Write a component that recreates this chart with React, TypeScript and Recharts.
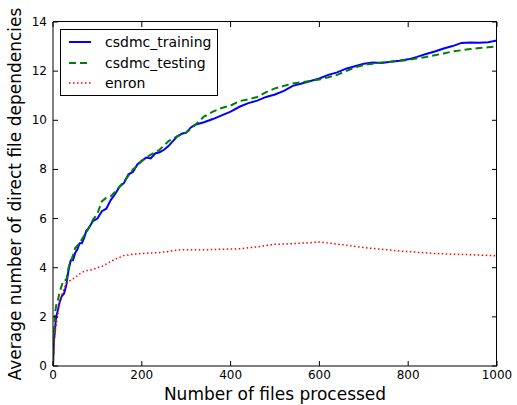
import { LineChart, Line, XAxis, YAxis, Label, CartesianGrid } from 'recharts'

const trainX = [0, 2, 5, 7, 10, 15, 20, 25, 30, 35, 40, 45, 50, 55, 60, 65, 70, 75, 80, 90, 100, 110, 120, 130, 140, 150, 160, 170, 180, 190, 200, 210, 220, 230, 240, 250, 260, 270, 280, 290, 300, 310, 320, 340, 360, 380, 400, 420, 440, 460, 480, 500, 520, 540, 560, 580, 600, 620, 640, 660, 680, 700, 720, 740, 760, 780, 800, 820, 840, 860, 880, 900, 920, 940, 960, 980, 1000]
const trainY = [0, 1.0, 1.6, 2.0, 2.2, 2.6, 2.85, 2.95, 3.3, 3.9, 4.3, 4.3, 4.6, 4.75, 5.0, 5.0, 5.2, 5.5, 5.6, 5.9, 6.0, 6.3, 6.4, 6.75, 7.0, 7.3, 7.45, 7.8, 7.9, 8.2, 8.35, 8.48, 8.45, 8.65, 8.7, 8.8, 8.95, 9.15, 9.35, 9.45, 9.5, 9.7, 9.82, 9.92, 10.05, 10.2, 10.35, 10.55, 10.7, 10.8, 10.95, 11.05, 11.2, 11.4, 11.5, 11.6, 11.7, 11.85, 11.95, 12.1, 12.2, 12.3, 12.35, 12.33, 12.38, 12.42, 12.48, 12.58, 12.7, 12.8, 12.92, 13.02, 13.15, 13.17, 13.16, 13.18, 13.25]

const testX = [0, 2, 5, 8, 10, 15, 20, 25, 30, 35, 40, 45, 50, 55, 60, 70, 80, 90, 100, 110, 120, 130, 140, 150, 160, 170, 180, 190, 200, 220, 240, 260, 280, 300, 320, 340, 360, 380, 400, 420, 440, 460, 480, 500, 520, 540, 560, 580, 600, 620, 640, 660, 680, 700, 720, 740, 760, 780, 800, 820, 840, 860, 880, 900, 920, 940, 960, 980, 1000]
const testY = [0, 1.3, 2.2, 2.55, 2.6, 3.0, 3.3, 3.5, 3.5, 4.0, 4.25, 4.5, 4.8, 4.9, 5.0, 5.3, 5.6, 5.95, 6.2, 6.7, 6.85, 6.9, 7.1, 7.3, 7.5, 7.75, 8.0, 8.15, 8.35, 8.6, 8.8, 9.15, 9.35, 9.5, 9.8, 10.15, 10.35, 10.5, 10.6, 10.78, 10.85, 10.95, 11.15, 11.3, 11.4, 11.5, 11.55, 11.6, 11.66, 11.75, 11.85, 12.0, 12.15, 12.25, 12.3, 12.35, 12.38, 12.42, 12.45, 12.52, 12.58, 12.65, 12.72, 12.8, 12.85, 12.9, 12.94, 12.97, 13.0]

const enronX = [0, 2, 5, 10, 15, 20, 25, 30, 40, 50, 60, 70, 80, 90, 100, 110, 120, 130, 140, 150, 160, 170, 180, 200, 220, 240, 260, 280, 300, 340, 380, 420, 460, 500, 540, 580, 600, 620, 660, 700, 740, 780, 820, 860, 900, 940, 980, 1000]
const enronY = [0, 0.8, 1.4, 2.0, 2.6, 2.9, 3.15, 3.35, 3.5, 3.6, 3.75, 3.85, 3.9, 3.92, 4.0, 4.05, 4.15, 4.25, 4.35, 4.42, 4.5, 4.52, 4.55, 4.58, 4.6, 4.62, 4.66, 4.72, 4.73, 4.73, 4.75, 4.77, 4.85, 4.95, 4.98, 5.02, 5.05, 5.0, 4.92, 4.82, 4.75, 4.68, 4.63, 4.58, 4.55, 4.53, 4.5, 4.48]

const xTicks = [0, 200, 400, 600, 800, 1000]
const yTicks = [0, 2, 4, 6, 8, 10, 12, 14]

const series = [
  { name: 'csdmc_training', color: '#0000ff', dash: undefined, width: 2, xs: trainX, ys: trainY },
  { name: 'csdmc_testing', color: '#008000', dash: '7 4', width: 2, xs: testX, ys: testY },
  { name: 'enron', color: '#ff0000', dash: '1.5 2.5', width: 1.5, xs: enronX, ys: enronY },
]

const toPoints = (xs: number[], ys: number[]) => xs.map((x, i) => ({ x, y: ys[i] }))

const FONT = 'DejaVu Sans'
const PLOT = { left: 53, top: 22, right: 20, bottom: 39 }

function BottomTick(props: any) {
  const { x, y, payload } = props
  return (
    <g>
      <line x1={x} x2={x} y1={y} y2={y - 5} stroke="#000" />
      <text x={x} y={y + 13} textAnchor="middle" fontSize={12} fontFamily={FONT} fill="#000">
        {payload.value}
      </text>
    </g>
  )
}

function LeftTick(props: any) {
  const { x, y, payload } = props
  return (
    <g>
      <line x1={x} x2={x + 5} y1={y} y2={y} stroke="#000" />
      <text x={x - 6} y={y + 4} textAnchor="end" fontSize={12} fontFamily={FONT} fill="#000">
        {payload.value}
      </text>
    </g>
  )
}

// grid lines reduced to short inward ticks on the top and right edges
const topTick = (p: any) => {
  const top = Math.min(p.y1, p.y2)
  return <line key={p.key} x1={p.x1} x2={p.x1} y1={top} y2={top + 5} stroke="#000" />
}

const rightTick = (p: any) => {
  const right = Math.max(p.x1, p.x2)
  return <line key={p.key} x1={right} x2={right - 5} y1={p.y1} y2={p.y1} stroke="#000" />
}

function LegendBox() {
  return (
    <div
      style={{
        position: 'absolute',
        left: 60,
        top: 29,
        border: '1px solid #000',
        background: '#fff',
        width: 156,
        height: 63,
        fontFamily: FONT,
        fontSize: 14,
        paddingTop: 2,
      }}
    >
      {series.map((s) => (
        <div key={s.name} style={{ display: 'flex', alignItems: 'center', height: 20.5 }}>
          <svg width={44} height={10} style={{ flex: 'none' }}>
            <line x1={8} x2={30} y1={5} y2={5} stroke={s.color} strokeWidth={s.width} strokeDasharray={s.dash} />
          </svg>
          <span style={{ color: '#000' }}>{s.name}</span>
        </div>
      ))}
    </div>
  )
}

export default function App() {
  return (
    <div style={{ position: 'absolute', left: 0, top: 0, background: '#fff', width: 517, height: 405 }}>
      <LineChart width={517} height={405} margin={{ top: PLOT.top, right: PLOT.right, left: 0, bottom: 0 }}>
        <CartesianGrid horizontal={rightTick} vertical={topTick} />
        <XAxis
          dataKey="x"
          type="number"
          domain={[0, 1000]}
          ticks={xTicks}
          allowDataOverflow
          height={PLOT.bottom}
          tickSize={0}
          tickMargin={0}
          tickLine={false}
          axisLine={{ stroke: '#000' }}
          tick={<BottomTick />}
        >
          <Label
            content={() => (
              <text x={275} y={400} textAnchor="middle" fontSize={17} fontFamily={FONT} fill="#000">
                Number of files processed
              </text>
            )}
          />
        </XAxis>
        <YAxis
          type="number"
          domain={[0, 14]}
          ticks={yTicks}
          allowDataOverflow
          width={PLOT.left}
          tickSize={0}
          tickMargin={0}
          tickLine={false}
          axisLine={{ stroke: '#000' }}
          tick={<LeftTick />}
        >
          <Label
            content={() => (
              <text
                x={21}
                y={194}
                transform="rotate(-90 21 194)"
                textAnchor="middle"
                fontSize={17}
                fontFamily={FONT}
                fill="#000"
              >
                Average number of direct file dependencies
              </text>
            )}
          />
        </YAxis>
        {series.map((s) => (
          <Line
            key={s.name}
            data={toPoints(s.xs, s.ys)}
            dataKey="y"
            name={s.name}
            type="linear"
            stroke={s.color}
            strokeWidth={s.width}
            strokeDasharray={s.dash}
            dot={false}
            activeDot={false}
            isAnimationActive={false}
          />
        ))}
      </LineChart>
      {/* top and right spines of the axes box */}
      <div
        style={{
          position: 'absolute',
          left: PLOT.left,
          top: PLOT.top - 1,
          width: 517 - PLOT.left - PLOT.right,
          height: 405 - PLOT.top - PLOT.bottom + 1,
          borderTop: '1px solid #000',
          borderRight: '1px solid #000',
          boxSizing: 'border-box',
          pointerEvents: 'none',
        }}
      />
      <LegendBox />
    </div>
  )
}
